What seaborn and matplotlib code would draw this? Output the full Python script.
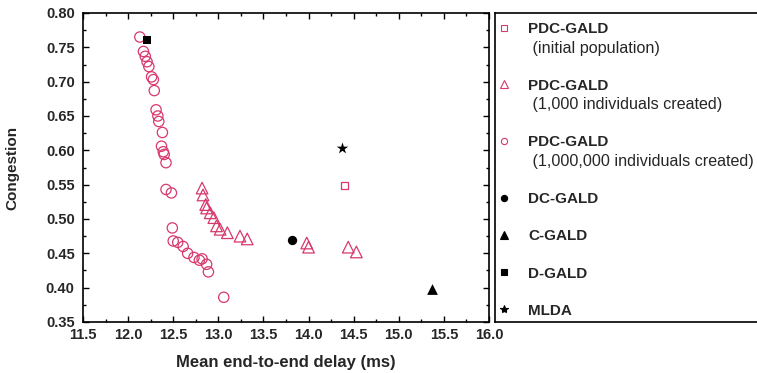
import matplotlib
matplotlib.use("Agg")
import matplotlib.pyplot as plt
from matplotlib.lines import Line2D
from matplotlib.ticker import MultipleLocator, FormatStrFormatter
import seaborn as sns
import pandas as pd

sns.set_style("white")
plt.rcParams['font.family'] = ['Liberation Sans', 'DejaVu Sans']

# ---- data ----
init_x = [14.40]
init_y = [0.549]

k1_x = [12.82, 12.83, 12.86, 12.87, 12.91, 12.95, 12.98, 13.02, 13.10, 13.24, 13.32,
        13.98, 14.00, 14.44, 14.53]
k1_y = [0.545, 0.535, 0.521, 0.516, 0.509, 0.502, 0.490, 0.485, 0.480, 0.475, 0.471,
        0.465, 0.459, 0.459, 0.452]

m1_x = [12.13, 12.17, 12.19, 12.21, 12.23, 12.26, 12.28, 12.29, 12.31, 12.33, 12.34,
        12.38, 12.37, 12.39, 12.40, 12.42, 12.42, 12.48, 12.49, 12.50, 12.55, 12.61,
        12.66, 12.73, 12.79, 12.82, 12.87, 12.89, 13.06]
m1_y = [0.765, 0.744, 0.737, 0.729, 0.722, 0.707, 0.703, 0.687, 0.659, 0.650, 0.642,
        0.626, 0.606, 0.598, 0.594, 0.582, 0.543, 0.538, 0.487, 0.468, 0.466, 0.460,
        0.450, 0.444, 0.440, 0.442, 0.434, 0.423, 0.386]

dc_x, dc_y = [13.82], [0.469]
c_x, c_y = [15.37], [0.398]
d_x, d_y = [12.21], [0.760]
mlda_x, mlda_y = [14.37], [0.604]

xlabel = "Mean end-to-end delay (ms)"
ylabel = "Congestion"
labels = ["PDC-GALD", " (initial population)",
          "PDC-GALD", " (1,000 individuals created)",
          "PDC-GALD", " (1,000,000 individuals created)",
          "DC-GALD", "C-GALD", "D-GALD", "MLDA"]

PINK = "#d8386c"

W, H = 757, 373
fig = plt.figure(figsize=(W / 100, H / 100), dpi=100)
ax = fig.add_axes([83 / W, 1 - 322 / H, (489 - 83) / W, (322 - 13) / H])

df_init = pd.DataFrame({"x": init_x, "y": init_y})
df_k1 = pd.DataFrame({"x": k1_x, "y": k1_y})
df_m1 = pd.DataFrame({"x": m1_x, "y": m1_y})

sns.scatterplot(data=df_m1, x="x", y="y", ax=ax, marker="o", s=55,
                facecolor="none", edgecolor=PINK, linewidth=0.9)
sns.scatterplot(data=df_k1, x="x", y="y", ax=ax, marker="^", s=70,
                facecolor="none", edgecolor=PINK, linewidth=0.9)
sns.scatterplot(data=df_init, x="x", y="y", ax=ax, marker="s", s=30,
                facecolor="none", edgecolor=PINK, linewidth=0.9)
sns.scatterplot(x=dc_x, y=dc_y, ax=ax, marker="o", s=45, color="black", linewidth=0)
sns.scatterplot(x=c_x, y=c_y, ax=ax, marker="^", s=60, color="black", linewidth=0)
sns.scatterplot(x=d_x, y=d_y, ax=ax, marker="s", s=35, color="black", linewidth=0)
sns.scatterplot(x=mlda_x, y=mlda_y, ax=ax, marker="*", s=75, color="black", linewidth=0)

ax.set_xlim(11.5, 16.0)
ax.set_ylim(0.35, 0.80)
ax.xaxis.set_major_locator(MultipleLocator(0.5))
ax.xaxis.set_minor_locator(MultipleLocator(0.25))
ax.yaxis.set_major_locator(MultipleLocator(0.05))
ax.yaxis.set_minor_locator(MultipleLocator(0.025))
ax.xaxis.set_major_formatter(FormatStrFormatter("%.1f"))
ax.yaxis.set_major_formatter(FormatStrFormatter("%.2f"))
ax.tick_params(which="both", direction="in", top=True, right=True,
               bottom=True, left=True, color="black", width=1.0)
ax.tick_params(which="major", length=4, labelsize=10.5)
ax.tick_params(which="minor", length=2.5)
ax.tick_params(axis="x", which="major", pad=4.5)
ax.tick_params(axis="y", which="major", pad=6)
for lab in ax.get_xticklabels() + ax.get_yticklabels():
    lab.set_fontweight("bold")
for sp in ax.spines.values():
    sp.set_visible(True)
    sp.set_color("black")
    sp.set_linewidth(1.2)
ax.set_xlabel(xlabel, fontsize=12, fontweight="bold", labelpad=9)
ax.set_ylabel(ylabel, fontsize=11, fontweight="bold", labelpad=19)
if ax.get_legend():
    ax.get_legend().remove()

# ---- legend box ----
lax = fig.add_axes([495 / W, 1 - 322 / H, 0.4, (322 - 13) / H])
lax.set_xticks([])
lax.set_yticks([])
for sp in lax.spines.values():
    sp.set_visible(True)
    sp.set_color("black")
    sp.set_linewidth(1.2)

def mk(marker, face, edge, size):
    return Line2D([], [], linestyle="none", marker=marker, markersize=size,
                  markerfacecolor=face, markeredgecolor=edge, markeredgewidth=0.8)

blank = Line2D([], [], linestyle="none", marker="None")
handles = [mk("s", "none", PINK, 4.5), blank, blank,
           mk("^", "none", PINK, 5.5), blank, blank,
           mk("o", "none", PINK, 4.5), blank, blank,
           mk("o", "black", "black", 4.5), blank,
           mk("^", "black", "black", 5.5), blank,
           mk("s", "black", "black", 4.0), blank,
           mk("*", "black", "black", 6.0)]
texts = [labels[0], labels[1], " ",
         labels[2], labels[3], " ",
         labels[4], labels[5], " ",
         labels[6], " ", labels[7], " ", labels[8], " ", labels[9]]
bold_idx = {0, 3, 6, 9, 11, 13, 15}
sub_idx = {1, 4, 7}

leg = fig.legend(handles, texts, loc="upper left",
                 bbox_to_anchor=(496 / W, 1 - 22 / H),
                 frameon=False, fontsize=11, labelspacing=0.30,
                 handlelength=1.0, handletextpad=1.1, borderpad=0,
                 borderaxespad=0)
for i, t in enumerate(leg.get_texts()):
    if i in bold_idx:
        t.set_fontweight("bold")
    if i in sub_idx:
        t.set_fontsize(11.6)

fig.savefig("out.png", dpi=100)
